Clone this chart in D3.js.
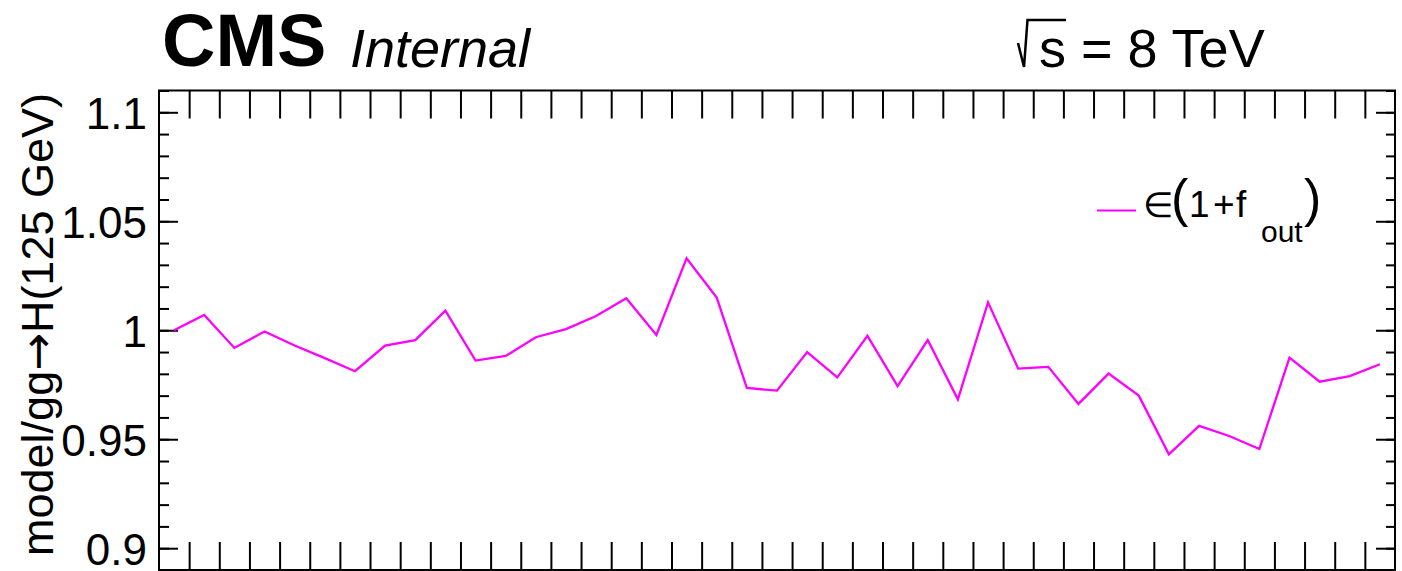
<!DOCTYPE html>
<html>
<head>
<meta charset="utf-8">
<script src="https://cdn.jsdelivr.net/npm/d3@7"></script>
<style>
  body { margin: 0; background: #ffffff; }
  text { font-family: "Liberation Sans", Arial, sans-serif; fill: #000; }
</style>
</head>
<body>
<script>
// bins 1..41 (no x labels in the plot)
var bins = d3.range(1, 42);
var ratio = [1.000, 1.0070, 0.9919, 0.9994, 0.9930, 0.9872, 0.9812, 0.9930, 0.9955, 1.0090,
             0.9861, 0.9882, 0.9968, 1.0005, 1.0065, 1.0147, 0.9978, 1.0330, 1.0150, 0.9735,
             0.9723, 0.9900, 0.9784, 0.9974, 0.9744, 0.9955, 0.9683, 1.0128, 0.9824, 0.9832,
             0.9662, 0.9801, 0.9700, 0.9431, 0.9561, 0.9515, 0.9455, 0.9874, 0.9764, 0.9790,
             0.9844];
var yTickValues = [0.9, 0.95, 1, 1.05, 1.1];
var yTickLabels = ["0.9", "0.95", "1", "1.05", "1.1"];
var yMinorValues = d3.range(0.89, 1.111, 0.01).map(function(v) { return +v.toFixed(2); });
var seriesLabel = "f";

var width = 1402, height = 571;
// note: "top" is taken by window.top, so use other names
var plotLeft = 159, plotRight = 1395, plotTop = 90.5, plotBottom = 570;

var svg = d3.select("body")
            .append("svg")
            .attr("width", width)
            .attr("height", height);

var x = d3.scaleLinear().domain([0, bins.length]).range([plotLeft, plotRight]);
var y = d3.scaleLinear().domain([0.89, 1.11]).range([plotBottom, plotTop]);

// y axes, left with labels
var yLeft = svg.append("g")
               .attr("transform", "translate(" + plotLeft + ",0)")
               .call(d3.axisLeft(y)
                       .tickValues(yTickValues)
                       .tickSize(-19)
                       .tickPadding(12)
                       .tickFormat(function(d, i) { return yTickLabels[i]; }));
yLeft.selectAll("text")
     .attr("font-size", 44)
     .attr("font-family", "Liberation Sans, Arial, sans-serif")
     .attr("dy", "0.36em");

svg.append("g")
   .attr("transform", "translate(" + plotLeft + ",0)")
   .call(d3.axisLeft(y).tickValues(yMinorValues).tickSize(-10).tickFormat(""));

svg.append("g")
   .attr("transform", "translate(" + plotRight + ",0)")
   .call(d3.axisRight(y).tickValues(yTickValues).tickSize(-19).tickFormat(""));
svg.append("g")
   .attr("transform", "translate(" + plotRight + ",0)")
   .call(d3.axisRight(y).tickValues(yMinorValues).tickSize(-9).tickFormat(""));

// x ticks at bin edges, top and bottom
var edges = d3.range(1, bins.length);
svg.append("g")
   .attr("transform", "translate(0," + plotBottom + ")")
   .call(d3.axisBottom(x).tickValues(edges).tickSize(-28).tickFormat(""));
svg.append("g")
   .attr("transform", "translate(0," + plotTop + ")")
   .call(d3.axisTop(x).tickValues(edges).tickSize(-28).tickFormat(""));

svg.selectAll(".domain").remove();
svg.selectAll(".tick line")
   .attr("stroke", "#000")
   .attr("stroke-width", 2);

// frame
svg.append("rect")
   .attr("x", plotLeft)
   .attr("y", plotTop)
   .attr("width", plotRight - plotLeft)
   .attr("height", plotBottom - plotTop)
   .attr("fill", "none")
   .attr("stroke", "#000")
   .attr("stroke-width", 2);

// the series
var line = d3.line()
             .x(function(d, i) { return x(i + 0.5); })
             .y(function(d) { return y(d); });

svg.append("path")
   .datum(ratio)
   .attr("d", line)
   .attr("fill", "none")
   .attr("stroke", "#ff00ff")
   .attr("stroke-width", 2.3)
   .attr("stroke-linejoin", "miter");

// y title
var yTitle = svg.append("text")
   .attr("transform", "translate(53,93) rotate(-90)")
   .attr("text-anchor", "end")
   .attr("font-size", 45);
yTitle.append("tspan").text("model/gg");
yTitle.append("tspan").attr("font-family", "DejaVu Sans").text("\u2192");
yTitle.append("tspan").text("H(125 GeV)");

// CMS Internal
svg.append("text")
   .attr("x", 162)
   .attr("y", 65.5)
   .attr("font-size", 74)
   .attr("font-weight", "bold")
   .text("CMS");
svg.append("text")
   .attr("x", 350)
   .attr("y", 66.5)
   .attr("font-size", 54)
   .attr("font-style", "italic")
   .text("Internal");

// sqrt(s) = 8 TeV
svg.append("path")
   .attr("d", "M1018,43 L1024,67 L1027.5,20 L1066,20")
   .attr("fill", "none")
   .attr("stroke", "#000")
   .attr("stroke-width", 2.5);
svg.append("text")
   .attr("x", 1039)
   .attr("y", 66.7)
   .attr("font-size", 54)
   .text("s = 8 TeV");

// legend
svg.append("line")
   .attr("x1", 1097)
   .attr("x2", 1136)
   .attr("y1", 210.5)
   .attr("y2", 210.5)
   .attr("stroke", "#ff00ff")
   .attr("stroke-width", 2);

var leg = svg.append("g");
leg.append("text").attr("x", 1143).attr("y", 216.7).attr("font-size", 35)
   .attr("font-family", "DejaVu Sans").text("\u2208");
leg.append("text").attr("x", 1171).attr("y", 215.5).attr("font-size", 52).text("(");
leg.append("text").attr("x", 1189).attr("y", 216.7).attr("font-size", 37).text("1");
leg.append("text").attr("x", 1213).attr("y", 216.7).attr("font-size", 37).text("+");
leg.append("text").attr("x", 1236).attr("y", 216.7).attr("font-size", 37).text(seriesLabel);
leg.append("text").attr("x", 1261).attr("y", 241.7).attr("font-size", 30).text("out");
leg.append("text").attr("x", 1304).attr("y", 215.5).attr("font-size", 52).text(")");
</script>
</body>
</html>
